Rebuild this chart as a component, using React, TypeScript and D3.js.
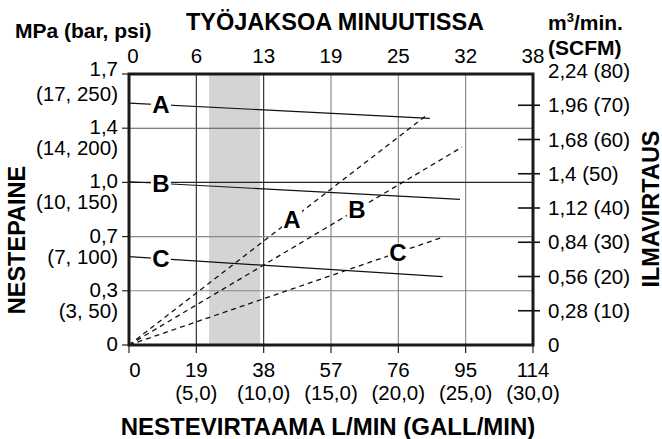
import React from "react";
import * as d3 from "d3";

// ---- data ----
const flowTicks = [0, 19, 38, 57, 76, 95, 114]; // L/min
const flowLabels = ["0", "19", "38", "57", "76", "95", "114"];
const gallLabels = ["", "(5,0)", "(10,0)", "(15,0)", "(20,0)", "(25,0)", "(30,0)"];
const cycleLabels = ["0", "6", "13", "19", "25", "32", "38"];
const psiTicks = [0, 50, 100, 150, 200, 250];
const mpaLabels = ["0", "0,3", "0,7", "1,0", "1,4", "1,7"];
const barPsiLabels = ["", "(3, 50)", "(7, 100)", "(10, 150)", "(14, 200)", "(17, 250)"];
const scfmTicks = [0, 10, 20, 30, 40, 50, 60, 70, 80];
const airLabels = ["0", "0,28 (10)", "0,56 (20)", "0,84 (30)", "1,12 (40)", "1,4 (50)", "1,68 (60)", "1,96 (70)", "2,24 (80)"];

const curveNames = ["A", "B", "C"];
// fluid pressure (psi) lines: start at 0 flow, end at given flow
const pressureStartPsi = [223.2, 150.6, 81.5];
const pressureEndFlow = [84.9, 93.4, 88.5];
const pressureEndPsi = [209.1, 134.4, 63.0];
// air consumption (SCFM) lines from origin
const airEndFlow = [84.1, 94.0, 88.6];
const airEndScfm = [67.2, 57.8, 31.5];
const airLabelFlow = [46.0, 64.3, 75.9];
const pressureLabelFlow = 9;
const bandFlow = [22.6, 37.0];

const W = 662;
const H = 439;
const FONT = "'Liberation Sans', Arial, Helvetica, sans-serif";

export default function App() {
  const left = 129, right = 533, top = 74, bottom = 345;
  const x = d3.scaleLinear().domain([0, 114]).range([left, right]);
  const y = d3.scaleLinear().domain([0, 250]).range([bottom, top]);
  const yAir = d3.scaleLinear().domain([0, 80]).range([bottom, 71]);

  const line = d3.line<[number, number]>().x((d) => d[0]).y((d) => d[1]);

  const vGridColor = (v: number) => (v === 19 || v === 38 ? "#222" : "#808080");
  const hGridColor = (v: number) => (v === 150 ? "#222" : v === 200 ? "#555" : "#888");

  return (
    <svg
      width={W}
      height={H}
      viewBox={`0 0 ${W} ${H}`}
      style={{ position: "absolute", left: 0, top: 0, background: "#fff" }}
      fontFamily={FONT}
    >
      <rect x={0} y={0} width={W} height={H} fill="#fff" />
      {/* shaded band */}
      <rect
        x={x(bandFlow[0])}
        y={top}
        width={x(bandFlow[1]) - x(bandFlow[0])}
        height={bottom - top}
        fill="#d4d4d4"
      />
      {/* vertical grid */}
      {flowTicks.slice(1, -1).map((v) => (
        <line key={"vg" + v} x1={x(v)} x2={x(v)} y1={top} y2={bottom} stroke={vGridColor(v)} strokeWidth={1.1} />
      ))}
      {/* horizontal grid */}
      {psiTicks.slice(1, -1).map((v) => (
        <line key={"hg" + v} x1={left} x2={right} y1={y(v)} y2={y(v)} stroke={hGridColor(v)} strokeWidth={1.1} />
      ))}
      {/* bottom ticks */}
      {flowTicks.map((v) => (
        <line key={"bt" + v} x1={x(v)} x2={x(v)} y1={bottom} y2={bottom + 8} stroke="#222" strokeWidth={1.2} />
      ))}
      {/* left ticks */}
      {psiTicks.map((v) => (
        <line key={"lt" + v} x1={left - 7} x2={left} y1={y(v)} y2={y(v)} stroke="#222" strokeWidth={1.2} />
      ))}
      {/* right ticks */}
      {scfmTicks.slice(1, -1).map((v) => (
        <line key={"rt" + v} x1={right - 15} x2={right + 7} y1={yAir(v)} y2={yAir(v)} stroke="#111" strokeWidth={1.6} />
      ))}

      {/* air consumption dashed lines */}
      {curveNames.map((c, i) => (
        <path
          key={"air" + c}
          d={line([
            [x(0), yAir(0)],
            [x(airEndFlow[i]), yAir(airEndScfm[i])],
          ]) as string}
          fill="none"
          stroke="#111"
          strokeWidth={1.3}
          strokeDasharray="5,4"
        />
      ))}
      {/* fluid pressure lines */}
      {curveNames.map((c, i) => (
        <path
          key={"pr" + c}
          d={line([
            [x(0), y(pressureStartPsi[i])],
            [x(pressureEndFlow[i]), y(pressureEndPsi[i])],
          ]) as string}
          fill="none"
          stroke="#111"
          strokeWidth={1.2}
        />
      ))}

      {/* letter labels on pressure lines */}
      {curveNames.map((c, i) => {
        const f = pressureLabelFlow;
        const p = pressureStartPsi[i] + ((pressureEndPsi[i] - pressureStartPsi[i]) * f) / pressureEndFlow[i];
        const cx = x(f), cy = y(p);
        return (
          <g key={"pl" + c}>
            <rect x={cx - 10} y={cy - 10} width={20} height={20} fill="#fff" />
            <text x={cx} y={cy + 8.5} textAnchor="middle" fontSize={24} fontWeight="bold" fill="#000">
              {c}
            </text>
          </g>
        );
      })}
      {/* letter labels on air lines */}
      {curveNames.map((c, i) => {
        const f = airLabelFlow[i];
        const s = (airEndScfm[i] * f) / airEndFlow[i];
        const cx = x(f), cy = yAir(s);
        return (
          <g key={"al" + c}>
            <rect x={cx - 10} y={cy - 9} width={20} height={18} fill="#fff" />
            <text x={cx} y={cy + 8.5} textAnchor="middle" fontSize={24} fontWeight="bold" fill="#000">
              {c}
            </text>
          </g>
        );
      })}

      {/* frame */}
      <rect x={left} y={top} width={right - left} height={bottom - top} fill="none" stroke="#1a1a1a" strokeWidth={3} />

      {/* top axis labels */}
      {flowTicks.map((v, i) => (
        <text key={"tl" + v} x={x(v) + (i === 0 ? 4 : 0)} y={63} textAnchor="middle" fontSize={20.5} fill="#000">
          {cycleLabels[i]}
        </text>
      ))}
      {/* bottom axis labels */}
      {flowTicks.map((v, i) => (
        <text key={"fl" + v} x={x(v) + (i === 0 ? 6 : 0)} y={377} textAnchor="middle" fontSize={20.5} fill="#000">
          {flowLabels[i]}
        </text>
      ))}
      {flowTicks.map((v, i) =>
        gallLabels[i] ? (
          <text key={"gl" + v} x={x(v)} y={400} textAnchor="middle" fontSize={20.5} fill="#000">
            {gallLabels[i]}
          </text>
        ) : null
      )}
      {/* left axis labels */}
      {psiTicks.map((v, i) => (
        <text key={"ml" + v} x={118} y={y(v) + (i === psiTicks.length - 1 ? 2 : 6)} textAnchor="end" fontSize={20.5} fill="#000">
          {mpaLabels[i]}
        </text>
      ))}
      {psiTicks.map((v, i) =>
        barPsiLabels[i] ? (
          <text key={"bl" + v} x={118} y={y(v) + 27} textAnchor="end" fontSize={20.5} fill="#000">
            {barPsiLabels[i]}
          </text>
        ) : null
      )}
      {/* right axis labels */}
      {scfmTicks.map((v, i) => (
        <text key={"al" + v} x={548} y={yAir(v) + 7} textAnchor="start" fontSize={20.5} fill="#000">
          {airLabels[i]}
        </text>
      ))}

      {/* titles */}
      <text x={335} y={30} textAnchor="middle" fontSize={23.5} fontWeight="bold" fill="#000">
        TYÖJAKSOA MINUUTISSA
      </text>
      <text x={15} y={38} textAnchor="start" fontSize={21} fontWeight="bold" fill="#000">
        MPa (bar, psi)
      </text>
      <text x={548} y={30} textAnchor="start" fontSize={21} fontWeight="bold" fill="#000">
        m<tspan fontSize={13} dy={-8}>3</tspan>
        <tspan dy={8}>/min.</tspan>
      </text>
      <text x={548} y={55} textAnchor="start" fontSize={21} fontWeight="bold" fill="#000">
        (SCFM)
      </text>
      <text x={328} y={435} textAnchor="middle" fontSize={24} fontWeight="bold" fill="#000">
        NESTEVIRTAAMA L/MIN (GALL/MIN)
      </text>
      <text
        transform="translate(24.5,240) rotate(-90)"
        textAnchor="middle"
        fontSize={23.5}
        fontWeight="bold"
        fill="#000"
      >
        NESTEPAINE
      </text>
      <text
        transform="translate(658.5,209) rotate(-90)"
        textAnchor="middle"
        fontSize={23.5}
        fontWeight="bold"
        fill="#000"
      >
        ILMAVIRTAUS
      </text>
    </svg>
  );
}
